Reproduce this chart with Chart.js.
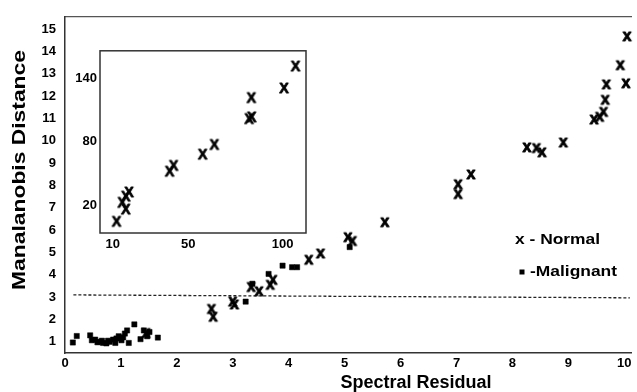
<!DOCTYPE html>
<html><head><meta charset="utf-8">
<script src="https://cdn.jsdelivr.net/npm/chart.js@4.4.1/dist/chart.umd.min.js"></script>
<style>
html,body{margin:0;padding:0;background:#fff;}
#wrap{position:relative;width:637px;height:392px;overflow:hidden;}
#main{position:absolute;left:0;top:0;width:637px;height:392px;}
#inset{position:absolute;left:60px;top:40px;width:252px;height:220px;}
</style></head><body>
<div id="wrap"><canvas id="main" width="637" height="392"></canvas><canvas id="inset" width="252" height="220"></canvas></div>
<script>
// ---- data ----
const xTicks = [0,1,2,3,4,5,6,7,8,9,10];
const yTicks = [1,2,3,4,5,6,7,8,9,10,11,12,13,14,15];
const normal = [
  {x:1.45,y:1.37},{x:2.62,y:2.45},{x:2.65,y:2.1},{x:3.0,y:2.78},{x:3.03,y:2.65},
  {x:3.33,y:3.43},{x:3.47,y:3.24},{x:3.67,y:3.53},{x:3.72,y:3.75},
  {x:4.36,y:4.65},{x:4.57,y:4.93},{x:5.06,y:5.66},{x:5.14,y:5.49},{x:5.72,y:6.33},
  {x:7.03,y:8.03},{x:7.03,y:7.59},{x:7.26,y:8.47},
  {x:8.26,y:9.68},{x:8.43,y:9.65},{x:8.53,y:9.46},{x:8.91,y:9.9},
  {x:9.46,y:10.93},{x:9.56,y:11.05},{x:9.63,y:11.27},{x:9.66,y:11.81},{x:9.68,y:12.5},
  {x:10.03,y:12.55},{x:9.93,y:13.36},{x:10.05,y:14.65}
];
const malignant = [
  {x:0.14,y:0.97},{x:0.21,y:1.26},{x:0.45,y:1.29},{x:0.48,y:1.07},{x:0.54,y:1.1},
  {x:0.58,y:0.98},{x:0.61,y:1.0},{x:0.66,y:1.05},{x:0.68,y:0.95},{x:0.74,y:0.93},
  {x:0.77,y:1.05},{x:0.8,y:1.0},{x:0.86,y:1.1},{x:0.9,y:0.95},{x:0.92,y:1.15},
  {x:0.96,y:1.25},{x:1.01,y:1.07},{x:1.04,y:1.2},{x:1.07,y:1.37},{x:1.11,y:1.51},
  {x:1.14,y:0.95},{x:1.24,y:1.78},{x:1.35,y:1.12},{x:1.41,y:1.51},{x:1.47,y:1.25},
  {x:1.51,y:1.44},{x:1.66,y:1.19},
  {x:3.23,y:2.8},{x:3.35,y:3.6},{x:3.64,y:4.04},{x:3.89,y:4.41},{x:4.06,y:4.34},
  {x:4.15,y:4.34},{x:5.09,y:5.24}
];
const threshold = [{x:0.15,y:3.1},{x:10.1,y:2.97}];
const insetXTicks = [10,50,100];
const insetYTicks = [20,80,140];
const insetNormal = [
  {x:12.1,y:4.6},{x:15.1,y:22.6},{x:17.0,y:16.2},{x:17.0,y:28.4},{x:18.7,y:32.4},
  {x:40.2,y:52},{x:42.3,y:57.5},{x:57.7,y:68.1},{x:63.9,y:77.3},
  {x:82.3,y:101.7},{x:83.7,y:103.3},{x:83.5,y:121.6},{x:100.8,y:130.7},{x:106.9,y:151.4}
];

// ---- styling helpers ----
const FONT = '"Liberation Sans", Arial, Helvetica, sans-serif';
function glyph(ch, size, hRatio, sw){
  const c = document.createElement('canvas');
  c.width = 18; c.height = 18;
  const g = c.getContext('2d');
  g.font = 'bold ' + size + 'px ' + FONT;
  g.fillStyle = '#000';
  g.strokeStyle = '#000';
  g.lineWidth = sw;
  g.lineJoin = 'round';
  g.textAlign = 'center';
  g.textBaseline = 'alphabetic';
  g.fillText(ch, 9, 9 + size*hRatio/2);
  g.strokeText(ch, 9, 9 + size*hRatio/2);
  return c;
}
const xGlyph = glyph('x', 16, 0.519, 0.9);
const XGlyph = glyph('X', 14, 0.716, 0.8);
const tickFont = {family: FONT, size: 13, weight: 'bold'};

const textPlugin = {
  id: 'texts',
  afterDraw(chart){
    const ctx = chart.ctx;
    ctx.save();
    ctx.fillStyle = '#000';
    // y title
    const yt = 'Manalanobis Distance';
    ctx.font = 'bold 19px ' + FONT;
    ctx.save();
    ctx.translate(20, 170);
    ctx.rotate(-Math.PI/2);
    const w = ctx.measureText(yt).width;
    ctx.scale(240/w, 1);
    ctx.textAlign = 'center'; ctx.textBaseline = 'middle';
    ctx.fillText(yt, 0, 0);
    ctx.restore();
    // x title
    ctx.font = 'bold 18px ' + FONT;
    ctx.textAlign = 'center'; ctx.textBaseline = 'middle';
    ctx.fillText('Spectral Residual', 416, 383);
    // legend
    ctx.font = 'bold 15px ' + FONT;
    ctx.textAlign = 'left';
    ctx.save(); ctx.translate(515, 240); ctx.scale(1.16, 1); ctx.fillText('x - Normal', 0, 0); ctx.restore();
    ctx.fillRect(519.5, 269.5, 5, 5);
    ctx.save(); ctx.translate(530, 272); ctx.scale(1.16, 1); ctx.fillText('-Malignant', 0, 0); ctx.restore();
    ctx.restore();
  }
};

new Chart(document.getElementById('main'), {
  type: 'scatter',
  data: {datasets: [
    {label:'Normal', data: normal, pointStyle: xGlyph, pointRadius: 5, clip: false},
    {label:'Malignant', data: malignant, pointStyle: 'rect', pointRadius: 3.7, backgroundColor:'#000', borderColor:'#000', borderWidth: 0.5, clip: false},
    {label:'threshold', data: threshold, showLine: true, borderDash:[3,2], borderColor:'#222', borderWidth: 1.3, pointRadius: 0, fill: false}
  ]},
  options: {
    responsive: false, animation: false,
    layout: {padding: {top: 12, right: 0, left: 0, bottom: 0}},
    plugins: {legend: {display: false}, tooltip: {enabled: false}},
    scales: {
      x: {type:'linear', position:'bottom', min:0, max:10.12,
          afterBuildTicks: s => { s.ticks = xTicks.map(v => ({value: v})); },
          afterFit: s => { s.height = 39; },
          grid: {display:false, drawTicks:false},
          border: {display:true, color:'#333', width:1.5},
          ticks: {padding:3, font: tickFont, color:'#000', autoSkip:false, maxRotation:0}},
      x2: {type:'linear', position:'top', min:0, max:10.12,
          afterFit: s => { s.height = 0; },
          grid: {display:false, drawTicks:false},
          border: {display:true, color:'#555', width:1.2},
          ticks: {display:false}},
      y: {type:'linear', min:0.5, max:15.55,
          afterBuildTicks: s => { s.ticks = yTicks.map(v => ({value: v})); },
          afterFit: s => { s.width = 65; },
          grid: {display:false, drawTicks:false},
          border: {display:true, color:'#333', width:1.5},
          ticks: {padding:9, font: tickFont, color:'#000', autoSkip:false}}
    }
  },
  plugins: [textPlugin]
});

const boxPlugin = {
  id: 'box',
  afterDraw(chart){
    const a = chart.chartArea, ctx = chart.ctx;
    ctx.save(); ctx.strokeStyle = '#333'; ctx.lineWidth = 1.5;
    ctx.strokeRect(a.left, a.top, a.right - a.left, a.bottom - a.top);
    ctx.restore();
  }
};

new Chart(document.getElementById('inset'), {
  type: 'scatter',
  data: {datasets: [{label:'Normal', data: insetNormal, pointStyle: XGlyph, pointRadius: 5, clip: false}]},
  options: {
    responsive: false, animation: false,
    layout: {padding: {top: 5, right: 5, left: 0, bottom: 0}},
    plugins: {legend: {display:false}, tooltip: {enabled:false}},
    scales: {
      x: {type:'linear', min:3.3, max:112.4,
          afterBuildTicks: s => { s.ticks = insetXTicks.map(v => ({value: v})); },
          afterFit: s => { s.height = 27; },
          grid: {display:false, drawTicks:false},
          border: {display:false},
          ticks: {padding:4, font: tickFont, color:'#000', autoSkip:false, maxRotation:0}},
      y: {type:'linear', min:-6.4, max:165.8,
          afterBuildTicks: s => { s.ticks = insetYTicks.map(v => ({value: v})); },
          afterFit: s => { s.width = 40; },
          grid: {display:false, drawTicks:false},
          border: {display:false},
          ticks: {padding:3, font: tickFont, color:'#000', autoSkip:false}}
    }
  },
  plugins: [boxPlugin]
});
</script>
</body></html>
